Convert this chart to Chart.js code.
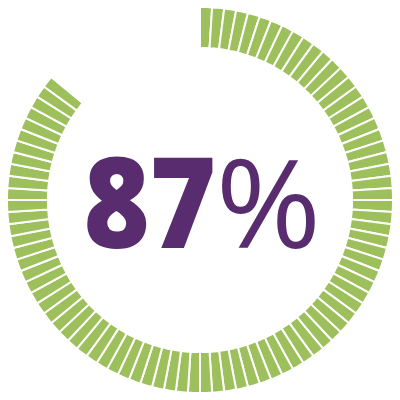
<!DOCTYPE html>
<html>
<head>
<meta charset="utf-8">
<script src="https://cdn.jsdelivr.net/npm/chart.js@4/dist/chart.umd.min.js"></script>
<style>
  html, body { margin: 0; padding: 0; background: #fff; }
  #wrap { width: 400px; height: 400px; }
</style>
</head>
<body>
<div id="wrap"><canvas id="chart" width="400" height="400"></canvas></div>
<script>
// values
var percentLabel = '87';   // big number in the middle
var segmentCount = 100;    // ticks round the ring
var filledSegments = 86;   // green ticks counted clockwise from 12 o'clock
var ringColor = '#9dc05c';
var textColor = '#582c6e';

// one slice per tick, coloured while inside the filled share
var slices = [];
var sliceColors = [];
for (var i = 0; i < segmentCount; i++) {
    slices.push(1);
    sliceColors.push(i < filledSegments ? ringColor : 'rgba(0,0,0,0)');
}

// draw a string stretched to a given box (left x, baseline, width, cap height)
function fitText(ctx, str, weight, family, left, base, width, height) {
    ctx.font = weight + ' 100px ' + family;
    var m = ctx.measureText(str);
    var size = 100 * height / m.actualBoundingBoxAscent;
    ctx.font = weight + ' ' + size + 'px ' + family;
    m = ctx.measureText(str);
    var inkW = m.actualBoundingBoxLeft + m.actualBoundingBoxRight;
    var sx = width / inkW;
    ctx.save();
    ctx.translate(left, base);
    ctx.scale(sx, 1);
    ctx.fillText(str, m.actualBoundingBoxLeft, 0);
    ctx.restore();
}

var centerText = {
    id: 'centerText',
    afterDraw: function(chart) {
        var ctx = chart.ctx;
        ctx.save();
        ctx.fillStyle = textColor;
        ctx.textBaseline = 'alphabetic';
        ctx.textAlign = 'left';
        fitText(ctx, percentLabel, '800', "'Open Sans'", 87, 248, 126, 90);
        fitText(ctx, '%', '500', "'Open Sans'", 222, 248, 93, 90);
        ctx.restore();
    }
};

var ctx = document.getElementById('chart').getContext('2d');
window.myChart = new Chart(ctx, {
    type: 'doughnut',
    data: {
        labels: slices.map(function(v, i) { return String(i + 1); }),
        datasets: [{
            data: slices,
            backgroundColor: sliceColors,
            borderColor: '#ffffff',
            borderWidth: 2
        }]
    },
    options: {
        responsive: false,
        animation: false,
        radius: 193,
        cutout: '78.8%',
        layout: { padding: 0 },
        plugins: {
            legend: { display: false },
            tooltip: { enabled: false }
        }
    },
    plugins: [centerText]
});
</script>
</body>
</html>
